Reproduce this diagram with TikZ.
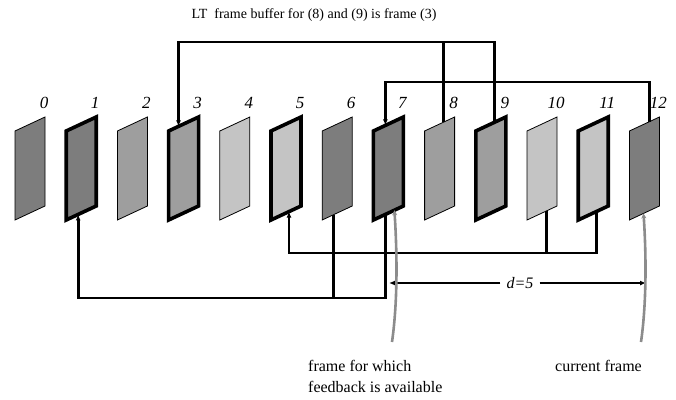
\documentclass[tikz,border=0pt]{standalone}
\usepackage{fontspec}
\setmainfont{Liberation Serif}
\usetikzlibrary{calc,arrows.meta}

\definecolor{darkframe}{gray}{0.49}
\definecolor{midframe}{gray}{0.62}
\definecolor{lightframe}{gray}{0.77}
\definecolor{pointergray}{gray}{0.55}

\begin{document}
\begin{tikzpicture}[x=1pt,y=-1pt]  % one unit = one point, y grows downwards

    % Define some common styles
    \tikzset{
        plainframe/.style={draw=black, line width=0.8pt},
        refframe/.style={draw=black, line width=3.6pt},
        framenum/.style={font=\itshape\fontsize{17}{17}\selectfont, inner sep=0pt},
        link/.style={line width=2.7pt, -{Latex[length=6pt,width=5pt]}},
        branch/.style={line width=2.7pt},
        pointer/.style={draw=pointergray, line width=2.6pt, -{Stealth[length=5pt,width=5pt]}},
        caption/.style={font=\fontsize{16}{21}\selectfont, inner sep=0pt, align=left}
    }

    \useasboundingbox (0,0) rectangle (676,399);

    % Frames 0..12 as slanted panels, reference frames get a heavy border
    \foreach \i/\shade/\edge in {0/darkframe/plainframe, 1/darkframe/refframe,
                                 2/midframe/plainframe, 3/midframe/refframe,
                                 4/lightframe/plainframe, 5/lightframe/refframe,
                                 6/darkframe/plainframe, 7/darkframe/refframe,
                                 8/midframe/plainframe, 9/midframe/refframe,
                                 10/lightframe/plainframe, 11/lightframe/refframe,
                                 12/darkframe/plainframe} {
        \pgfmathsetmacro{\x}{15+51.2*\i}
        \coordinate (f\i-tl) at (\x,131);
        \coordinate (f\i-tr) at (\x+30,117);
        \coordinate (f\i-br) at (\x+30,206);
        \coordinate (f\i-bl) at (\x,220);
        \filldraw[\edge, fill=\shade] (f\i-tl) -- (f\i-tr) -- (f\i-br) -- (f\i-bl) -- cycle;
        \node[framenum] (n\i) at ($(f\i-tr)+(-1,-14)$) {\i};
    }

    % Attachment points on the frame edges
    \coordinate (f3t)  at ($(f3-tl)!0.33!(f3-tr)$);
    \coordinate (f7t)  at ($(f7-tl)!0.40!(f7-tr)$);
    \coordinate (f8t)  at ($(f8-tl)!0.63!(f8-tr)$);
    \coordinate (f9t)  at ($(f9-tl)!0.63!(f9-tr)$);
    \coordinate (f12t) at ($(f12-tl)!0.67!(f12-tr)$);
    \coordinate (f1b)  at ($(f1-bl)!0.40!(f1-br)$);
    \coordinate (f5b)  at ($(f5-bl)!0.60!(f5-br)$);
    \coordinate (f6b)  at ($(f6-bl)!0.37!(f6-br)$);
    \coordinate (f7b)  at ($(f7-bl)!0.40!(f7-br)$);
    \coordinate (f10b) at ($(f10-bl)!0.65!(f10-br)$);
    \coordinate (f11b) at ($(f11-bl)!0.62!(f11-br)$);
    \coordinate (f7g)  at ($(f7-bl)!0.70!(f7-br)$);
    \coordinate (f12g) at ($(f12-bl)!0.47!(f12-br)$);

    % Levels of the horizontal runs
    \coordinate (ltrun) at (0,42);
    \coordinate (strun) at (0,82);
    \coordinate (uprun) at (0,253);
    \coordinate (lowrun) at (0,298);

    % Long term reference: frames 8 and 9 point back to frame 3
    \node[caption, font=\fontsize{14}{16}\selectfont] (title) at (314,15) {LT\ \ frame buffer for (8) and (9) is frame (3)};
    \draw[link] (f9t) |- (f3t |- ltrun) -- (f3t);
    \draw[branch] (f8t) -- (f8t |- ltrun);

    % Frame 12 points back to frame 7
    \draw[link] (f12t) |- (f7t |- strun) -- (f7t);

    % Frames 10 and 11 point back to frame 5
    \draw[link] (f11b) |- (f5b |- uprun) -- (f5b);
    \draw[branch] (f10b) -- (f10b |- uprun);

    % Frames 6 and 7 point back to frame 1
    \draw[link] (f7b) |- (f1b |- lowrun) -- (f1b);
    \draw[branch] (f6b) -- (f6b |- lowrun);

    % Feedback delay
    \node[font=\itshape\fontsize{16}{16}\selectfont, inner sep=6pt] (delay) at (520,283) {d=5};
    \coordinate (delayl) at (389,283);
    \coordinate (delayr) at (646,283);
    \draw[link] (delay.west) -- (delayl);
    \draw[link] (delay.east) -- (delayr);

    % Captions with their gray pointers
    \node[caption, anchor=north west] (fbnote) at (308,360) {frame for which\\feedback is available};
    \node[caption, anchor=north west] (curnote) at (555,360) {current frame};
    \coordinate (fbfoot) at (392,342);
    \coordinate (curfoot) at (641,342);
    \draw[pointer] (fbfoot) .. controls (398,300) and (397,250) .. (f7g);
    \draw[pointer] (curfoot) .. controls (647,300) and (646,250) .. (f12g);

\end{tikzpicture}
\end{document}
